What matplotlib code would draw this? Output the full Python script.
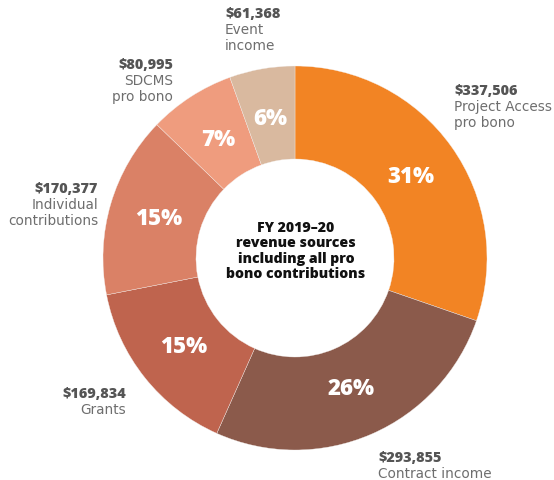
import matplotlib
matplotlib.use("Agg")
import matplotlib.pyplot as plt
import numpy as np

# Revenue sources, clockwise from 12 o'clock
sources = ["Project Access\npro bono", "Contract income", "Grants",
           "Individual\ncontributions", "SDCMS\npro bono", "Event\nincome"]
amounts = [337506, 293855, 169834, 170377, 80995, 61368]
share_labels = ["31%", "26%", "15%", "15%", "7%", "6%"]
colors = ["#F28424", "#8B5A4B", "#BF644E", "#DA8166", "#EF9C7E", "#D9B99F"]

center_title = "FY 2019\u201320\nrevenue sources\nincluding all pro\nbono contributions"

W, H = 554, 481
fig = plt.figure(figsize=(W / 100, H / 100), dpi=100)
ax = fig.add_axes([0, 0, 1, 1])

cx, cy = 295, H - 259
r_out, r_in = 192, 99

wedges, _ = ax.pie(amounts, colors=colors, startangle=90, counterclock=False,
                   radius=r_out, center=(cx, cy),
                   wedgeprops=dict(width=r_out - r_in, linewidth=0.25, edgecolor="#f4f0ee"))

ax.set_xlim(0, W)
ax.set_ylim(0, H)
ax.set_aspect("equal")
ax.axis("off")

pct_font = dict(family="Open Sans", weight=800, color="white", fontsize=16)
r_lab = 142
for w, lab in zip(wedges, share_labels):
    ang = np.deg2rad((w.theta1 + w.theta2) / 2)
    ax.text(cx + r_lab * np.cos(ang), cy + r_lab * np.sin(ang), lab,
            ha="center", va="center", **pct_font)

# outside annotations: (x, baseline y in pixels from top, alignment)
anchors = [(454, 95, "left"), (378, 462, "left"), (126, 398, "right"),
           (98, 193, "right"), (173, 69, "right"), (225, 18, "left")]
line_gap = 16
for (x, yb, ha), name, amt in zip(anchors, sources, amounts):
    ax.text(x, H - yb, f"${amt:,}", ha=ha, va="baseline", fontsize=10.4,
            fontweight=800, color="#555555", family="Open Sans")
    for i, line in enumerate(name.split("\n")):
        ax.text(x, H - yb - line_gap * (i + 1), line, ha=ha, va="baseline",
                fontsize=9.8, color="#6e6e6e", family="DejaVu Sans")

ax.text(cx + 1, H - 251, center_title, ha="center", va="center", fontsize=10.2,
        fontweight=800, color="#111111", family="Open Sans", linespacing=1.15)

fig.savefig("out.png", dpi=100)
